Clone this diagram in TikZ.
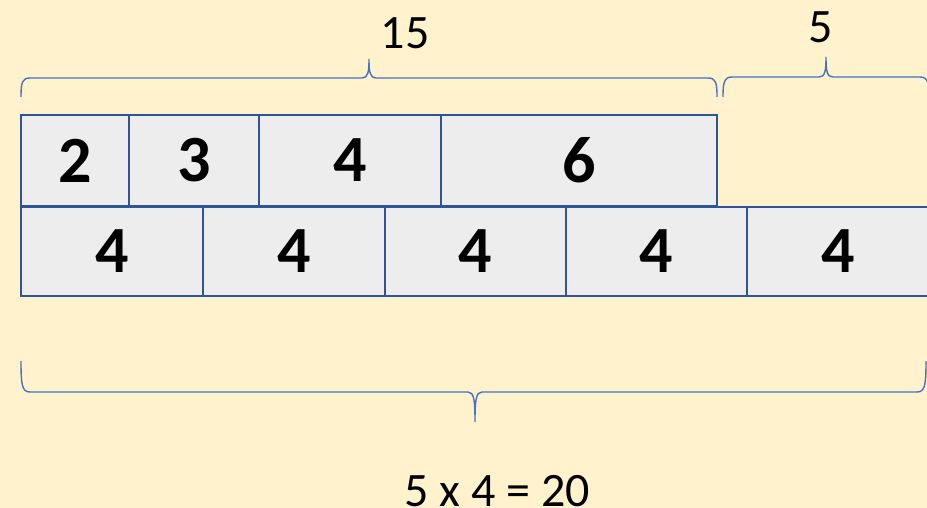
\documentclass[tikz,border=0pt]{standalone}
\usepackage{fontspec}
\setmainfont{Carlito}
\definecolor{bg}{HTML}{FFF2CC}
\definecolor{cellfill}{HTML}{EDEDED}
\definecolor{cellline}{HTML}{2F5597}
\definecolor{bracecol}{HTML}{4472C4}
\begin{document}
\begin{tikzpicture}[x=1pt,y=-1pt,
  cell/.style={draw=cellline, fill=cellfill, line width=2.3pt, rectangle, inner sep=0pt, outer sep=0pt,
    anchor=north west, minimum height=91pt, font=\fontsize{66}{66}\selectfont\bfseries},
  bracepath/.style={draw=bracecol, line width=1.4pt},
  lbl/.style={font=\fontsize{48}{48}\selectfont, inner sep=0pt}]
\useasboundingbox (0,0) rectangle (927,508);
\fill[bg] (0,0) rectangle (927,508);
\clip (0,0) rectangle (927,508);
% top row
\node[cell, minimum width=108pt] (c2) at (21,115) {2};
\node[cell, minimum width=130pt] (c3) at (129,115) {3};
\node[cell, minimum width=182pt] (c4) at (259,115) {4};
\node[cell, minimum width=276pt] (c6) at (441,115) {6};
% bottom row
\node[cell, minimum width=182pt, minimum height=89pt] (b1) at (21,207) {4};
\node[cell, minimum width=182pt, minimum height=89pt] (b2) at (203,207) {4};
\node[cell, minimum width=181pt, minimum height=89pt] (b3) at (385,207) {4};
\node[cell, minimum width=181pt, minimum height=89pt] (b4) at (566,207) {4};
\node[cell, minimum width=182pt, minimum height=89pt] (b5) at (747,207) {4};
% braces
\draw[bracepath] (21,97) .. controls (21,83) and (22,78) .. (30,78) -- (362,78)
  .. controls (368,78) and (369,72) .. (369,59)
  .. controls (369,72) and (370,78) .. (376,78) -- (708,78)
  .. controls (716,78) and (717,83) .. (717,97);
\draw[bracepath] (723,97) .. controls (723,83) and (724,77) .. (732,77) -- (819,77)
  .. controls (825,77) and (826,71) .. (826,57)
  .. controls (826,71) and (827,77) .. (833,77) -- (920,77)
  .. controls (928,77) and (929,83) .. (929,97);
\draw[bracepath] (21,361) .. controls (21,385) and (22,392) .. (30,392) -- (468,392)
  .. controls (474,392) and (475,400) .. (475,422)
  .. controls (475,400) and (476,392) .. (482,392) -- (917,392)
  .. controls (925,392) and (926,385) .. (926,361);
% labels
\node[lbl] (l15) at (405,33) {15};
\node[lbl] (l5) at (821,27) {5};
\node[lbl] (lsum) at (497,491) {5 x 4 = 20};
\end{tikzpicture}
\end{document}
